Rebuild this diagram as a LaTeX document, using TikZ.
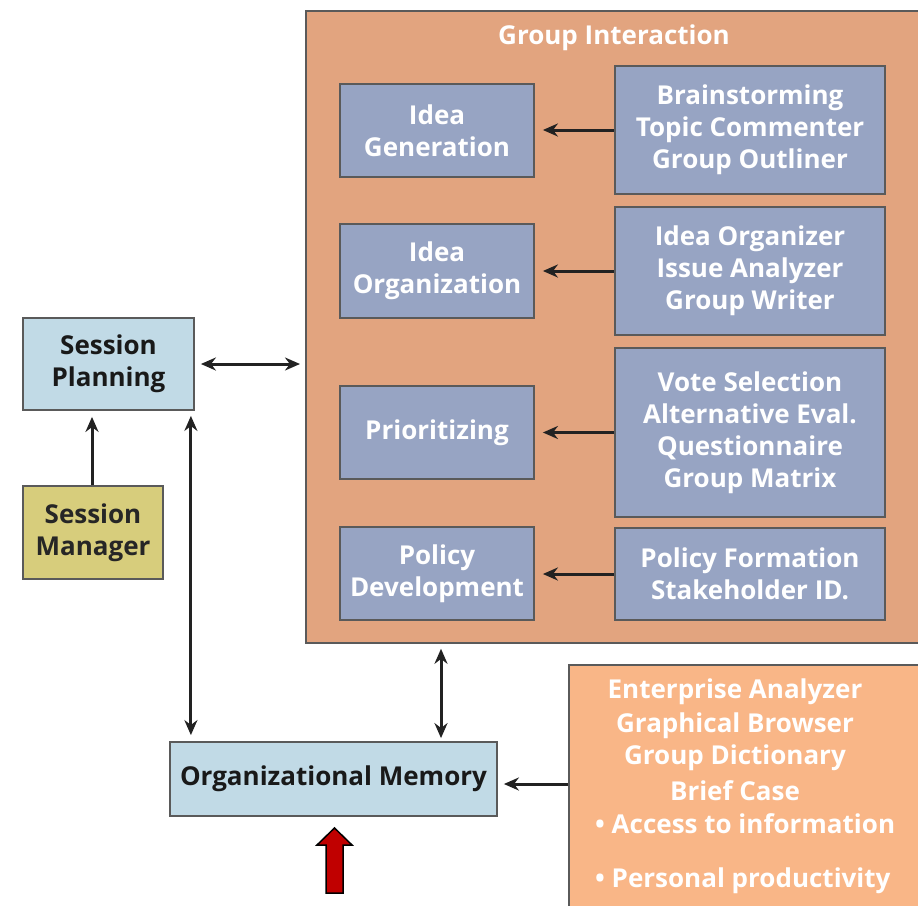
\documentclass[tikz,border=0pt]{standalone}
\usepackage{fontspec}
\setmainfont{Open Sans}
\usetikzlibrary{arrows.meta}
\definecolor{giorange}{HTML}{E2A47F}
\definecolor{bluebox}{HTML}{97A4C3}
\definecolor{lightblue}{HTML}{C1DAE6}
\definecolor{smyellow}{HTML}{D7CD7C}
\definecolor{eaorange}{HTML}{F9B687}
\definecolor{darkline}{HTML}{222222}
\definecolor{boxborder}{HTML}{5A5A5A}
\definecolor{redarrow}{HTML}{C00000}
\begin{document}
\begin{tikzpicture}[x=1pt,y=-1pt,
  box/.style={draw=boxborder, line width=1.8pt, rectangle, inner sep=0pt, align=center,
    font=\fontsize{26}{32}\selectfont\bfseries},
  bluebx/.style={box, fill=bluebox, text=white},
  lbbx/.style={box, fill=lightblue, text=black!90},
  conn/.style={draw=darkline, line width=3pt, -{Stealth[length=15pt,width=13pt]}},
  bconn/.style={draw=darkline, line width=3pt, {Stealth[length=15pt,width=13pt]}-{Stealth[length=15pt,width=13pt]}},
  etext/.style={text=white, font=\fontsize{26}{32}\selectfont\bfseries, inner sep=0pt}
]
\path[use as bounding box, clip] (0,0) rectangle (918,905);
\fill[white] (0,0) rectangle (918,905);

% Group interaction container
\node[box, fill=giorange, minimum width=625pt, minimum height=632pt, anchor=north west] (gi) at (305,10) {};
\node[etext] (gititle) at (614,38) {Group Interaction};

% left column
\node[bluebx, minimum width=194pt, minimum height=93pt] (ig) at (437,130.5) {Idea\\Generation};
\node[bluebx, minimum width=194pt, minimum height=94pt] (io) at (437,271) {Idea\\Organization};
\node[bluebx, minimum width=194pt, minimum height=93pt] (pr) at (437,432.5) {Prioritizing};
\node[bluebx, minimum width=194pt, minimum height=93pt] (pd) at (437,573.5) {Policy\\Development};

% right column
\node[bluebx, minimum width=270pt, minimum height=128pt] (bs) at (750,130) {Brainstorming\\Topic Commenter\\Group Outliner};
\node[bluebx, minimum width=270pt, minimum height=128pt] (ior) at (750,271) {Idea Organizer\\Issue Analyzer\\Group Writer};
\node[bluebx, minimum width=270pt, minimum height=169pt] (vs) at (750,432.5) {Vote Selection\\Alternative Eval.\\Questionnaire\\Group Matrix};
\node[bluebx, minimum width=270pt, minimum height=92pt] (pf) at (750,574) {Policy Formation\\Stakeholder ID.};

\draw[conn, shorten >=8pt] (bs.west) -- (bs.west -| ig.east);
\draw[conn, shorten >=8pt] (ior.west) -- (ior.west -| io.east);
\draw[conn, shorten >=8pt] (vs.west) -- (vs.west -| pr.east);
\draw[conn, shorten >=8pt] (pf.west) -- (pf.west -| pd.east);

% left side
\node[lbbx, minimum width=171pt, minimum height=92pt] (sp) at (108.5,364) {Session\\Planning};
\node[box, fill=smyellow, text=black!85, minimum width=140pt, minimum height=93pt] (sm) at (93,532.5) {Session\\Manager};
\node[lbbx, minimum width=327pt, minimum height=74pt] (om) at (333.5,779) {Organizational Memory};

% enterprise box
\node[box, fill=eaorange, minimum width=370pt, minimum height=270pt, anchor=north west] (ea) at (568,664) {};
\node[etext] (ea1) at (735,692) {Enterprise Analyzer};
\node[etext] (ea2) at (735,726) {Graphical Browser};
\node[etext] (ea3) at (735,758) {Group Dictionary};
\node[etext] (ea4) at (735,791) {Brief Case};
\node[etext, anchor=west] (ea5) at (595,824) {\textbullet\ Access to information};
\node[etext, anchor=west] (ea6) at (595,881) {\textbullet\ Personal productivity};

% connectors
\draw[bconn, shorten <=6pt, shorten >=5pt] (sp.east) -- (sp.east -| gi.west);
\draw[conn, shorten >=6pt] (sm.north -| 92,0) -- (sp.south -| 92,0);
\draw[bconn, shorten <=5pt, shorten >=6pt] ([xshift=-4pt]sp.south east) -- ([xshift=-4pt]sp.south east |- om.north);
\draw[bconn, shorten <=5pt, shorten >=3pt] ([xshift=107.5pt]om.north |- gi.south) -- ([xshift=107.5pt]om.north);
\draw[conn, shorten >=6pt] (ea.west |- 0,784) -- (om.east |- 0,784);

% red arrow
\draw[fill=redarrow, draw=black, line width=1.5pt, line join=miter]
  (326,893) -- (326,845) -- (317,845) -- (334.5,828) -- (352,845) -- (343,845) -- (343,893) -- cycle;
\end{tikzpicture}
\end{document}
